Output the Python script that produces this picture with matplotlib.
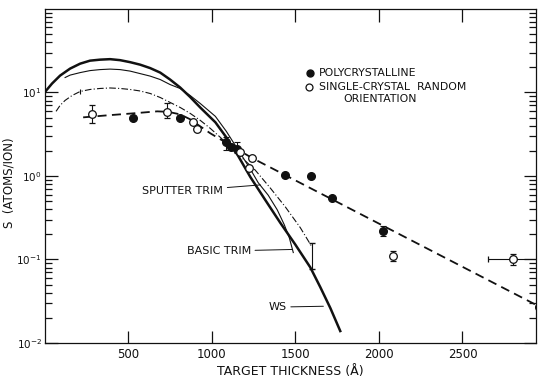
import numpy as np
import matplotlib
matplotlib.use("Agg")
import matplotlib.pyplot as plt
from matplotlib.ticker import LogLocator, NullFormatter, FixedLocator

# polycrystalline targets (filled circles)
poly_x = [530, 811, 1087, 1117, 1153, 1440, 1596, 1722, 2027, 2955]
poly_s = [4.9, 5.0, 2.54, 2.2, 2.1, 1.03, 1.0, 0.55, 0.22, 0.027]
poly_lo = [4.9, 5.0, 2.04, 2.2, 1.88, 1.03, 1.0, 0.55, 0.19, 0.027]
poly_hi = [4.9, 5.0, 2.9, 2.2, 2.54, 1.03, 1.0, 0.55, 0.25, 0.027]

# single crystal, random orientation (open circles)
single_x = [284, 734, 889, 913, 1168, 1225, 1243, 2087, 2800]
single_s = [5.6, 5.9, 4.4, 3.7, 1.93, 1.24, 1.64, 0.109, 0.1]
single_lo = [4.3, 5.0, 4.4, 3.7, 1.93, 1.24, 1.64, 0.095, 0.087]
single_hi = [7.0, 7.4, 4.4, 3.7, 1.93, 1.24, 1.64, 0.125, 0.115]
single_xlo = [284, 734, 889, 913, 1168, 1225, 1243, 2087, 2650]
single_xhi = [284, 734, 889, 913, 1168, 1225, 1243, 2087, 2950]

# WS calculation (thick solid), log10 S
ws_x = [0, 45, 93, 153, 213, 272, 332, 392, 452, 512, 572, 632, 692, 751, 811, 871,
        931, 1022, 1087, 1159, 1231, 1320, 1410, 1500, 1590, 1650, 1710, 1769]
ws_log = [1.000, 1.107, 1.202, 1.286, 1.345, 1.381, 1.393, 1.399, 1.387, 1.363, 1.333,
          1.292, 1.238, 1.155, 1.060, 0.946, 0.821, 0.643, 0.464, 0.238, -0.012,
          -0.286, -0.560, -0.821, -1.095, -1.333, -1.583, -1.857]

# TRIM curve (thin solid), log10 S
trim_x = [123, 153, 213, 272, 332, 392, 452, 512, 572, 632, 692, 751, 811, 871, 931,
          1022, 1087, 1159, 1231, 1278, 1338, 1392, 1434, 1464, 1488]
trim_log = [1.179, 1.208, 1.238, 1.262, 1.274, 1.280, 1.274, 1.256, 1.226, 1.196,
            1.155, 1.095, 1.048, 0.964, 0.869, 0.714, 0.536, 0.310, 0.083, -0.080,
            -0.230, -0.405, -0.583, -0.738, -0.917]

# TRIM curve (dash-dot), log10 S
dd_x = [69, 93, 123, 165, 213, 272, 332, 392, 452, 512, 572, 632, 692, 751, 811, 871,
        931, 991, 1051, 1111, 1183, 1260, 1350, 1440, 1530, 1602]
dd_log = [0.774, 0.845, 0.905, 0.964, 1.012, 1.036, 1.048, 1.054, 1.048, 1.036, 1.018,
          0.988, 0.940, 0.881, 0.821, 0.750, 0.667, 0.571, 0.464, 0.345, 0.214, 0.071,
          -0.143, -0.369, -0.619, -0.857]

# fit through polycrystalline data (dashed), log10 S
fit_x = [231, 302, 374, 452, 530, 602, 674, 740, 811, 871, 931, 991, 1051, 1093, 1171,
         1243, 2967]
fit_log = [0.702, 0.714, 0.726, 0.738, 0.750, 0.762, 0.774, 0.768, 0.738, 0.679, 0.595,
           0.512, 0.440, 0.393, 0.298, 0.214, -1.571]

ink = "#111111"
plt.rcParams["font.family"] = ["DejaVu Sans"]

fig = plt.figure(figsize=(5.41, 3.77), dpi=100)
ax = fig.add_axes([0.0823, 0.0902, 0.9085, 0.886])

ax.plot(ws_x, 10 ** np.array(ws_log), color=ink, lw=1.8, solid_joinstyle="round")
ax.plot(trim_x, 10 ** np.array(trim_log), color=ink, lw=0.8, solid_joinstyle="round")
ax.plot(dd_x, 10 ** np.array(dd_log), color=ink, lw=0.8, ls=(0, (6, 2, 1, 2)))
ax.plot(fit_x, 10 ** np.array(fit_log), color=ink, lw=1.3, ls=(0, (5, 3)))

# end ticks of the dash-dot curve
ax.errorbar([213], [10 ** 1.012], yerr=[[10 ** 1.012 - 10 ** 0.98], [10 ** 1.045 - 10 ** 1.012]],
            fmt="none", ecolor=ink, elinewidth=0.8, capsize=0)
ax.errorbar([1602], [0.14], yerr=[[0.14 - 0.076], [0.159 - 0.14]],
            fmt="none", ecolor=ink, elinewidth=0.8, capsize=2)

ps = np.array(poly_s)
ax.errorbar(poly_x, poly_s, yerr=[ps - np.array(poly_lo), np.array(poly_hi) - ps],
            fmt="o", color=ink, ms=5.5, elinewidth=0.8, capsize=2, capthick=0.8)
ss = np.array(single_s)
sx = np.array(single_x)
ax.errorbar(single_x, single_s,
            yerr=[ss - np.array(single_lo), np.array(single_hi) - ss],
            xerr=[sx - np.array(single_xlo), np.array(single_xhi) - sx],
            fmt="o", color=ink, mfc="white", mec=ink, ms=5.5, mew=0.9,
            elinewidth=0.8, capsize=2, capthick=0.8)

ax.set_yscale("log")
ax.set_xlim(0, 2940)
ax.set_ylim(0.01, 100)

ax.xaxis.set_major_locator(FixedLocator([500, 1000, 1500, 2000, 2500]))
ax.yaxis.set_major_locator(FixedLocator([0.01, 0.1, 1, 10]))
ax.yaxis.set_minor_locator(LogLocator(base=10, subs=np.arange(2, 10), numticks=10))
ax.yaxis.set_minor_formatter(NullFormatter())
ax.set_yticklabels(["$10^{-2}$", "$10^{-1}$", "$10^{0}$", "$10^{1}$"])
ax.tick_params(which="both", direction="in", top=True, right=True, colors=ink,
               labelsize=8.5, width=0.9)
ax.tick_params(axis="y", labelsize=7.5, pad=2)
ax.tick_params(which="major", length=9)
ax.tick_params(which="minor", length=5)
for sp in ax.spines.values():
    sp.set_color(ink)
    sp.set_linewidth(0.9)

ax.set_xlabel("TARGET THICKNESS (Å)", fontsize=9, color=ink, labelpad=3)
ax.set_ylabel("S  (ATOMS/ION)", fontsize=8.5, color=ink)
ax.yaxis.set_label_coords(-0.06, 0.48)

# legend drawn as text
ax.plot([1590], [10 ** ((176 - 72) / 84)], "o", color=ink, ms=5)
ax.plot([1585], [10 ** ((176 - 86) / 84)], "o", color=ink, mfc="white", ms=5, mew=0.9)
ax.text(1640, 10 ** ((176 - 72) / 84), "POLYCRYSTALLINE", fontsize=7.8, va="center", color=ink)
ax.text(1640, 10 ** ((176 - 86) / 84), "SINGLE-CRYSTAL  RANDOM", fontsize=7.8, va="center", color=ink)
ax.text(1785, 10 ** ((176 - 99) / 84), "ORIENTATION", fontsize=7.8, va="center", color=ink)

# curve labels with leader lines
arrow = dict(arrowstyle="-", color=ink, lw=0.7, shrinkA=1, shrinkB=0)
ax.annotate("SPUTTER TRIM", xy=(1291, 10 ** -0.107), xytext=(585, 10 ** -0.18),
            fontsize=8, va="center", color=ink, arrowprops=arrow)
ax.annotate("BASIC TRIM", xy=(1482, 10 ** -0.88), xytext=(850, 10 ** -0.9),
            fontsize=8, va="center", color=ink, arrowprops=arrow)
ax.annotate("WS", xy=(1668, 10 ** -1.56), xytext=(1340, 10 ** -1.57),
            fontsize=8, va="center", color=ink, arrowprops=arrow)

fig.savefig("out.png", dpi=100)
